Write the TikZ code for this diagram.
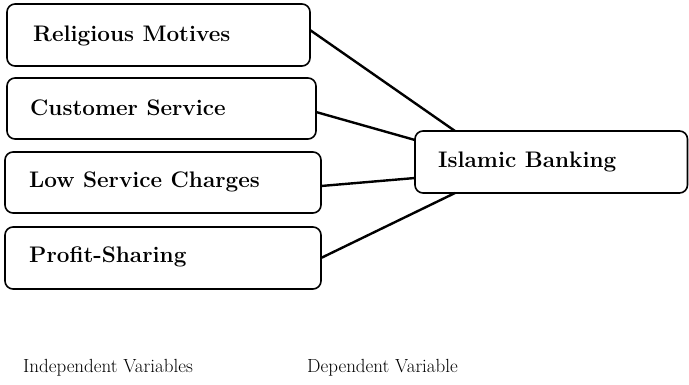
\documentclass[tikz,border=0pt]{standalone}
\begin{document}
\begin{tikzpicture}[x=1pt,y=-1pt,
  vbox/.style={draw, line width=1.6pt, rounded corners=8pt},
  conn/.style={line width=2.4pt},
  btxt/.style={font=\fontsize{22.5}{26}\selectfont\bfseries, anchor=west, inner sep=0pt},
  ltxt/.style={font=\fontsize{19}{22}\selectfont, anchor=west, inner sep=0pt}]
\useasboundingbox (0,0) rectangle (689,384);
% boxes
\draw[vbox] (7,4) rectangle (310,66);
\coordinate (b1) at (310,30);
\draw[vbox] (7,78) rectangle (316,139);
\coordinate (b2) at (316,112);
\draw[vbox] (5,152) rectangle (321,213);
\coordinate (b3) at (321,186);
\draw[vbox] (5,227) rectangle (321,289);
\coordinate (b4) at (321,258);
\draw[vbox] (415,131) rectangle (687.5,193);
\coordinate (t1) at (455,131);
\coordinate (t2) at (415,140);
\coordinate (t3) at (415,178);
\coordinate (t4) at (455,193);
% texts
\node[btxt] (n1) at (33,36) {Religious Motives};
\node[btxt] (n2) at (30,108) {Customer Service};
\node[btxt] (n3) at (29,182) {Low Service Charges};
\node[btxt] (n4) at (29,257) {Profit-Sharing};
\node[btxt] (n5) at (438,162) {Islamic Banking};
% connectors
\draw[conn] (b1) -- (t1);
\draw[conn] (b2) -- (t2);
\draw[conn] (b3) -- (t3);
\draw[conn] (b4) -- (t4);
% labels
\node[ltxt] (l1) at (23,368) {Independent Variables};
\node[ltxt] (l2) at (307,368) {Dependent Variable};
\end{tikzpicture}
\end{document}
